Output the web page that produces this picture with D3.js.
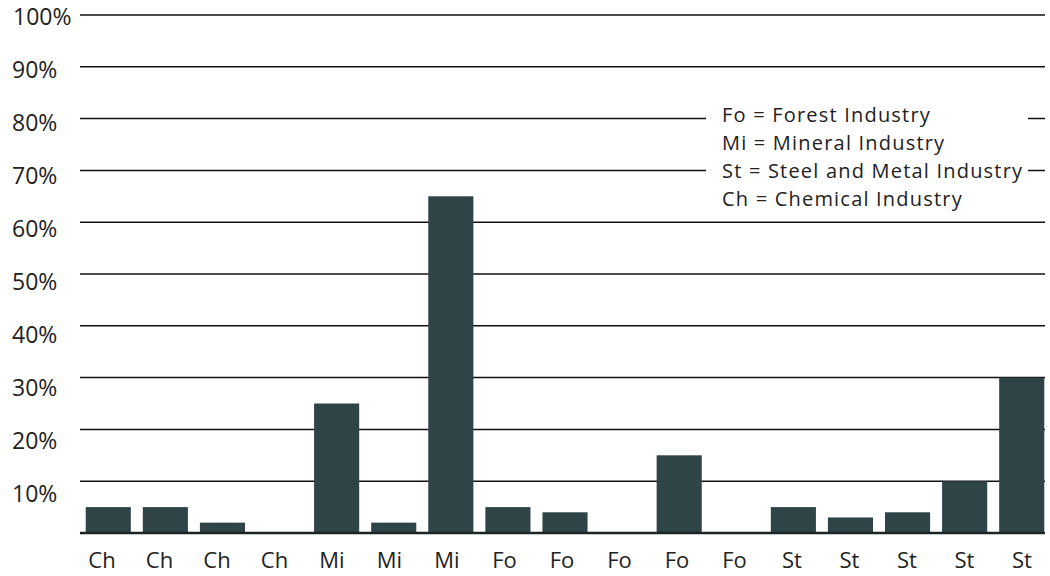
<!DOCTYPE html>
<html>
<head>
<meta charset="utf-8">
<script src="https://cdn.jsdelivr.net/npm/d3@7"></script>
<style>
  body { margin: 0; background: #fff; }
  text { font-family: "Open Sans", sans-serif; fill: #222; }
</style>
</head>
<body>
<div id="chart"></div>
<script>
// data
var categories = ["Ch", "Ch", "Ch", "Ch", "Mi", "Mi", "Mi", "Fo", "Fo", "Fo", "Fo", "Fo", "St", "St", "St", "St", "St"];
var values = [5, 5, 2, 0, 25, 2, 65, 5, 4, 0, 15, 0, 5, 3, 4, 10, 30];
var yTicks = [10, 20, 30, 40, 50, 60, 70, 80, 90, 100];
var legendLines = [
  "Fo = Forest Industry",
  "Mi = Mineral Industry",
  "St = Steel and Metal Industry",
  "Ch = Chemical Industry"
];

var svgWidth = 1050;
var svgHeight = 576;

var svg = d3.select("#chart")
  .append("svg")
  .attr("width", svgWidth)
  .attr("height", svgHeight);

var plotLeft = 80, plotRight = 1045, plotTop = 15, plotBottom = 533;

var xScale = d3.scaleBand()
  .domain(d3.range(categories.length))
  .range([80, 1050])
  .paddingInner(0.21)
  .paddingOuter(0.1);

// the category labels sit on a slightly wider spacing than the bars
var labelScale = d3.scalePoint()
  .domain(d3.range(categories.length))
  .range([102, 1022]);

var yScale = d3.scaleLinear()
  .domain([0, 100])
  .range([plotBottom, plotTop]);

// the percent labels hang a little below their lines towards the bottom
var yLabelScale = d3.scaleLinear()
  .domain([10, 100])
  .range([494, 17]);

// gridlines
svg.append("g")
  .selectAll("line")
  .data(yTicks)
  .enter()
  .append("line")
  .attr("x1", plotLeft)
  .attr("x2", plotRight)
  .attr("y1", d => yScale(d))
  .attr("y2", d => yScale(d))
  .attr("stroke", "#111")
  .attr("stroke-width", 1.5);

// tick labels
svg.append("g")
  .selectAll("text")
  .data(yTicks)
  .enter()
  .append("text")
  .attr("x", d => d === 100 ? 13 : 12)
  .attr("y", d => yLabelScale(d))
  .attr("dy", "0.36em")
  .attr("font-size", "23px")
  .text(d => d + "%");

// legend box hides the lines behind it
var legend = svg.append("g");
legend.append("rect")
  .attr("x", 706)
  .attr("y", 100)
  .attr("width", 322)
  .attr("height", 116)
  .attr("fill", "#fff");

legend.selectAll("text")
  .data(legendLines)
  .enter()
  .append("text")
  .attr("x", 722)
  .attr("y", (d, i) => 122 + i * 28)
  .attr("font-size", "20px")
  .attr("letter-spacing", "1.2px")
  .text(d => d);

// bars
svg.append("g")
  .selectAll("rect")
  .data(values)
  .enter()
  .append("rect")
  .attr("x", (d, i) => xScale(i))
  .attr("y", d => yScale(d))
  .attr("width", xScale.bandwidth())
  .attr("height", d => yScale(0) - yScale(d))
  .attr("fill", "#2f4446");

// baseline
svg.append("line")
  .attr("x1", plotLeft)
  .attr("x2", plotRight)
  .attr("y1", yScale(0))
  .attr("y2", yScale(0))
  .attr("stroke", "#1a2526")
  .attr("stroke-width", 2.5);

// category labels
svg.append("g")
  .selectAll("text")
  .data(categories)
  .enter()
  .append("text")
  .attr("x", (d, i) => labelScale(i))
  .attr("y", 568)
  .attr("text-anchor", "middle")
  .attr("font-size", "22px")
  .text(d => d);
</script>
</body>
</html>
